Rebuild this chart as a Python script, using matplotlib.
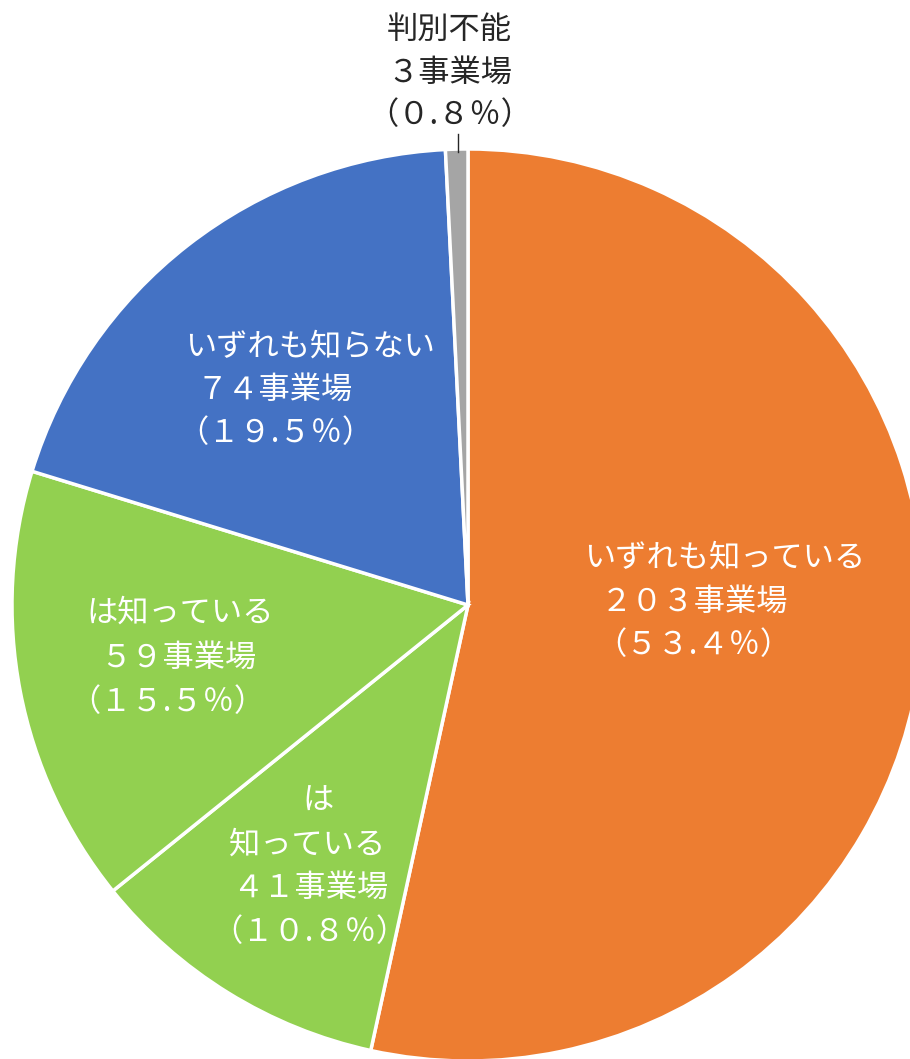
import numpy as np
import matplotlib
matplotlib.use("Agg")
import matplotlib.pyplot as plt

plt.rcParams['font.family'] = ['Noto Sans CJK JP', 'DejaVu Sans']

# dati
categorie = ["いずれも知っている", "は知っている(41)", "は知っている", "いずれも知らない", "判別不能"]
conteggi = [203, 41, 59, 74, 3]
percentuali = [53.4, 10.8, 15.5, 19.5, 0.8]
righe_nome = [["いずれも知っている"], ["は", "知っている"], ["は知っている"],
              ["いずれも知らない"], ["判別不能"]]
colori = ["#ED7D31", "#92D050", "#92D050", "#4472C4", "#A5A5A5"]

def zen(s):
    # cifre a larghezza piena
    return s.translate(str.maketrans("0123456789%()", "０１２３４５６７８９％（）"))

W, H = 910, 1059
fig = plt.figure(figsize=(W / 100, H / 100), dpi=100)
ax = fig.add_axes([0, 0, 1, 1])

cx, cy, r = 468, H - 605, 456
ax.pie(conteggi, colors=colori, startangle=90, counterclock=False,
       center=(cx, cy), radius=r, frame=True,
       wedgeprops=dict(edgecolor="white", linewidth=2.5))
ax.set_xlim(0, W)
ax.set_ylim(0, H)
ax.set_aspect("equal")
ax.axis("off")

# posizioni delle righe (pixel, dall'alto)
pos_righe = [
    [(725, 558), (695, 602), (693, 645)],
    [(318, 800), (307, 845), (310, 888), (309, 932)],
    [(180, 613), (178, 658), (167, 702)],
    [(310, 347), (275, 390), (275, 433)],
    [(449, 30), (450, 73), (450, 115)],
]
col_testo = ["white", "white", "white", "white", "#262626"]
for nome, n, p, posiz, c in zip(righe_nome, conteggi, percentuali, pos_righe, col_testo):
    righe = nome + [zen(f"{n}") + "事業場", zen(f"({p:.1f}%)").replace(".", ".")]
    for testo, (px, py) in zip(righe, posiz):
        ax.text(px, H - py, testo, ha="center", va="center", fontsize=22.5, color=c)

# linea guida per "判別不能"
ax.plot([458, 458], [H - 134, H - 152], color="#262626", lw=1)

fig.savefig("out.png", dpi=100)
